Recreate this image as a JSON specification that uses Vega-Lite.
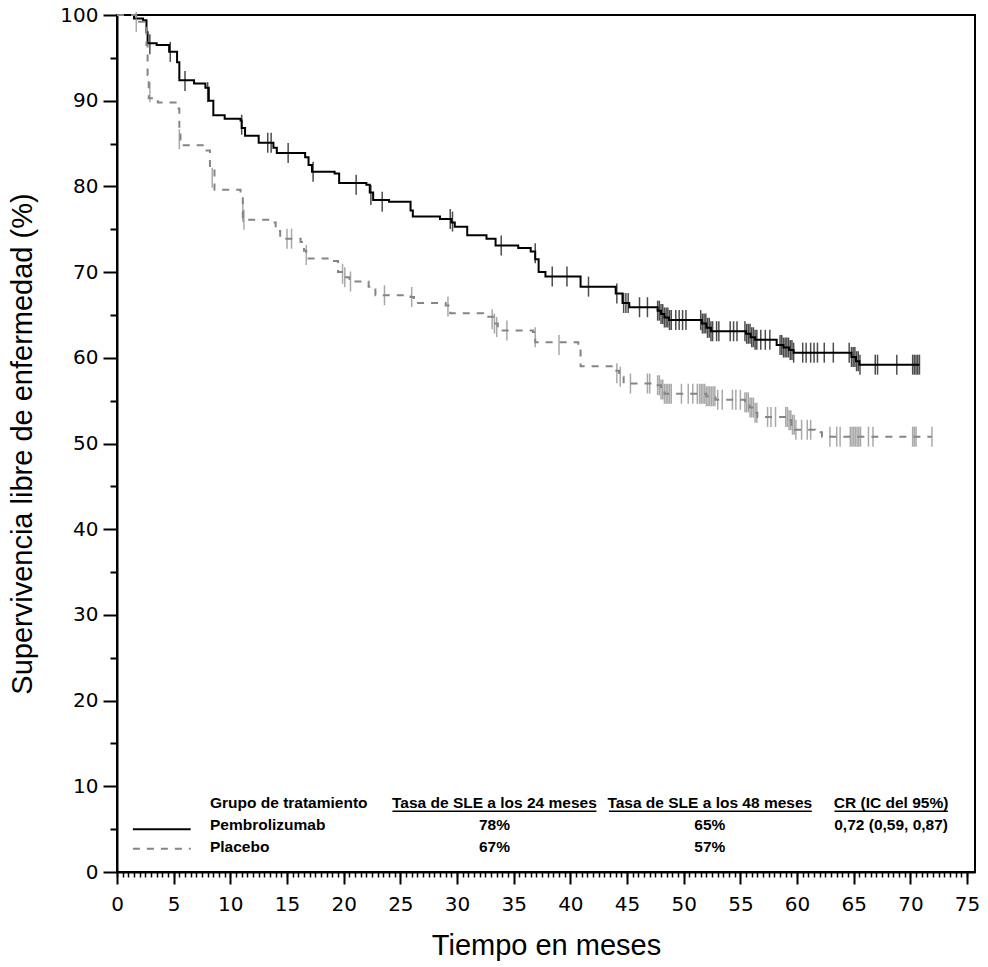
{
  "$schema": "https://vega.github.io/schema/vega-lite/v6.json",
  "width": 858,
  "height": 857,
  "autosize": {"type": "none"},
  "padding": {"left": 117, "top": 15, "right": 13, "bottom": 95},
  "background": "white",
  "config": {
    "view": {"stroke": "black", "strokeWidth": 2},
    "axis": {
      "grid": false,
      "domainColor": "black",
      "domainWidth": 2,
      "tickColor": "black",
      "tickWidth": 2,
      "labelColor": "black",
      "titleColor": "black",
      "labelFont": "DejaVu Sans",
      "labelFontSize": 20,
      "titleFont": "Liberation Sans",
      "titleFontSize": 29,
      "titleFontWeight": "normal"
    }
  },
  "datasets": {
    "km": [
      {"g": "Pembrolizumab", "t": 0, "s": 100}, {"g": "Pembrolizumab", "t": 1.5, "s": 99.6}, {"g": "Pembrolizumab", "t": 2.3, "s": 99.4},
      {"g": "Pembrolizumab", "t": 2.6, "s": 98}, {"g": "Pembrolizumab", "t": 2.7, "s": 96.7}, {"g": "Pembrolizumab", "t": 3.5, "s": 96.5},
      {"g": "Pembrolizumab", "t": 4.6, "s": 95.7}, {"g": "Pembrolizumab", "t": 5.3, "s": 94.5}, {"g": "Pembrolizumab", "t": 5.5, "s": 92.4},
      {"g": "Pembrolizumab", "t": 6.8, "s": 92.0}, {"g": "Pembrolizumab", "t": 7.8, "s": 91.5}, {"g": "Pembrolizumab", "t": 8.1, "s": 90.0},
      {"g": "Pembrolizumab", "t": 8.5, "s": 88.3}, {"g": "Pembrolizumab", "t": 9.5, "s": 87.9}, {"g": "Pembrolizumab", "t": 10.9, "s": 87.7},
      {"g": "Pembrolizumab", "t": 11.0, "s": 86.8}, {"g": "Pembrolizumab", "t": 11.3, "s": 85.9}, {"g": "Pembrolizumab", "t": 12.5, "s": 85.1},
      {"g": "Pembrolizumab", "t": 13.8, "s": 84.5}, {"g": "Pembrolizumab", "t": 14.1, "s": 83.9}, {"g": "Pembrolizumab", "t": 16.6, "s": 83.4},
      {"g": "Pembrolizumab", "t": 16.9, "s": 82.5}, {"g": "Pembrolizumab", "t": 17.2, "s": 81.7}, {"g": "Pembrolizumab", "t": 19.2, "s": 81.5},
      {"g": "Pembrolizumab", "t": 19.6, "s": 80.4}, {"g": "Pembrolizumab", "t": 22.0, "s": 80.2}, {"g": "Pembrolizumab", "t": 22.3, "s": 79.3},
      {"g": "Pembrolizumab", "t": 22.6, "s": 78.4}, {"g": "Pembrolizumab", "t": 24.0, "s": 78.2}, {"g": "Pembrolizumab", "t": 25.9, "s": 77.2},
      {"g": "Pembrolizumab", "t": 26.1, "s": 76.5}, {"g": "Pembrolizumab", "t": 28.5, "s": 76.2}, {"g": "Pembrolizumab", "t": 29.5, "s": 75.8},
      {"g": "Pembrolizumab", "t": 29.8, "s": 75.3}, {"g": "Pembrolizumab", "t": 30.9, "s": 74.3}, {"g": "Pembrolizumab", "t": 32.6, "s": 73.9},
      {"g": "Pembrolizumab", "t": 33.4, "s": 73.1}, {"g": "Pembrolizumab", "t": 35.4, "s": 72.8}, {"g": "Pembrolizumab", "t": 36.5, "s": 72.4},
      {"g": "Pembrolizumab", "t": 36.9, "s": 71.5}, {"g": "Pembrolizumab", "t": 37.2, "s": 70.0}, {"g": "Pembrolizumab", "t": 37.8, "s": 69.5},
      {"g": "Pembrolizumab", "t": 40.9, "s": 68.3}, {"g": "Pembrolizumab", "t": 44.0, "s": 67.5}, {"g": "Pembrolizumab", "t": 44.6, "s": 66.4},
      {"g": "Pembrolizumab", "t": 45.2, "s": 65.9}, {"g": "Pembrolizumab", "t": 47.7, "s": 65.5}, {"g": "Pembrolizumab", "t": 48.0, "s": 65.1},
      {"g": "Pembrolizumab", "t": 48.3, "s": 64.7}, {"g": "Pembrolizumab", "t": 48.7, "s": 64.4}, {"g": "Pembrolizumab", "t": 51.6, "s": 64.0},
      {"g": "Pembrolizumab", "t": 52.0, "s": 63.5}, {"g": "Pembrolizumab", "t": 52.4, "s": 63.1}, {"g": "Pembrolizumab", "t": 55.5, "s": 62.8},
      {"g": "Pembrolizumab", "t": 55.9, "s": 62.4}, {"g": "Pembrolizumab", "t": 56.3, "s": 62.1}, {"g": "Pembrolizumab", "t": 58.2, "s": 61.5},
      {"g": "Pembrolizumab", "t": 58.8, "s": 61.2}, {"g": "Pembrolizumab", "t": 59.3, "s": 60.9}, {"g": "Pembrolizumab", "t": 59.7, "s": 60.6},
      {"g": "Pembrolizumab", "t": 64.8, "s": 60.1}, {"g": "Pembrolizumab", "t": 65.2, "s": 59.6}, {"g": "Pembrolizumab", "t": 65.5, "s": 59.2},
      {"g": "Pembrolizumab", "t": 70.8, "s": 59.2},
      {"g": "Placebo", "t": 0, "s": 100}, {"g": "Placebo", "t": 1.7, "s": 99.2}, {"g": "Placebo", "t": 2.5, "s": 98.5},
      {"g": "Placebo", "t": 2.6, "s": 96.5}, {"g": "Placebo", "t": 2.7, "s": 93}, {"g": "Placebo", "t": 2.8, "s": 90.3},
      {"g": "Placebo", "t": 3.6, "s": 89.8}, {"g": "Placebo", "t": 5.3, "s": 89.1}, {"g": "Placebo", "t": 5.5, "s": 86.5},
      {"g": "Placebo", "t": 5.6, "s": 84.8}, {"g": "Placebo", "t": 7.9, "s": 84.2}, {"g": "Placebo", "t": 8.2, "s": 82},
      {"g": "Placebo", "t": 8.6, "s": 79.6}, {"g": "Placebo", "t": 10.9, "s": 79.4}, {"g": "Placebo", "t": 11.1, "s": 76.1},
      {"g": "Placebo", "t": 13.7, "s": 75.8}, {"g": "Placebo", "t": 14.0, "s": 74.8}, {"g": "Placebo", "t": 14.4, "s": 73.9},
      {"g": "Placebo", "t": 16.2, "s": 73.5}, {"g": "Placebo", "t": 16.5, "s": 72.5}, {"g": "Placebo", "t": 16.7, "s": 71.6},
      {"g": "Placebo", "t": 18.8, "s": 71.3}, {"g": "Placebo", "t": 19.5, "s": 70.0}, {"g": "Placebo", "t": 20.0, "s": 69.4},
      {"g": "Placebo", "t": 20.5, "s": 68.9}, {"g": "Placebo", "t": 22.2, "s": 68.3}, {"g": "Placebo", "t": 22.8, "s": 67.3},
      {"g": "Placebo", "t": 25.9, "s": 67.1}, {"g": "Placebo", "t": 26.2, "s": 66.4}, {"g": "Placebo", "t": 29.0, "s": 66.1},
      {"g": "Placebo", "t": 29.4, "s": 65.2}, {"g": "Placebo", "t": 32.3, "s": 64.8}, {"g": "Placebo", "t": 33.2, "s": 64.0},
      {"g": "Placebo", "t": 33.6, "s": 63.2}, {"g": "Placebo", "t": 36.7, "s": 63.0}, {"g": "Placebo", "t": 36.9, "s": 61.8},
      {"g": "Placebo", "t": 40.7, "s": 61.5}, {"g": "Placebo", "t": 40.9, "s": 59.0}, {"g": "Placebo", "t": 43.8, "s": 58.5},
      {"g": "Placebo", "t": 44.3, "s": 57.8}, {"g": "Placebo", "t": 44.7, "s": 57.0}, {"g": "Placebo", "t": 47.7, "s": 56.8},
      {"g": "Placebo", "t": 48.0, "s": 56.3}, {"g": "Placebo", "t": 48.3, "s": 55.8}, {"g": "Placebo", "t": 52.0, "s": 55.5},
      {"g": "Placebo", "t": 52.8, "s": 55.1}, {"g": "Placebo", "t": 55.4, "s": 54.8}, {"g": "Placebo", "t": 55.8, "s": 54.2},
      {"g": "Placebo", "t": 56.2, "s": 53.6}, {"g": "Placebo", "t": 56.5, "s": 53.1}, {"g": "Placebo", "t": 59.2, "s": 52.7},
      {"g": "Placebo", "t": 59.5, "s": 52.2}, {"g": "Placebo", "t": 59.8, "s": 51.6}, {"g": "Placebo", "t": 61.6, "s": 51.3},
      {"g": "Placebo", "t": 62.2, "s": 50.8}, {"g": "Placebo", "t": 71.9, "s": 50.8}
    ],
    "cens": [
      {"g": "Pembrolizumab", "t": 2.9, "s": 96.6}, {"g": "Pembrolizumab", "t": 4.7, "s": 95.7}, {"g": "Pembrolizumab", "t": 6.0, "s": 92.3},
      {"g": "Pembrolizumab", "t": 8.0, "s": 91.0}, {"g": "Pembrolizumab", "t": 11.0, "s": 87.2}, {"g": "Pembrolizumab", "t": 13.3, "s": 85.1},
      {"g": "Pembrolizumab", "t": 13.6, "s": 85.1}, {"g": "Pembrolizumab", "t": 15.1, "s": 83.9}, {"g": "Pembrolizumab", "t": 17.3, "s": 81.7},
      {"g": "Pembrolizumab", "t": 21.1, "s": 80.2}, {"g": "Pembrolizumab", "t": 22.4, "s": 79.0}, {"g": "Pembrolizumab", "t": 23.4, "s": 78.2},
      {"g": "Pembrolizumab", "t": 29.4, "s": 76.2}, {"g": "Pembrolizumab", "t": 29.6, "s": 75.9}, {"g": "Pembrolizumab", "t": 33.9, "s": 73.1},
      {"g": "Pembrolizumab", "t": 36.9, "s": 72.2}, {"g": "Pembrolizumab", "t": 38.4, "s": 69.5}, {"g": "Pembrolizumab", "t": 39.7, "s": 69.5},
      {"g": "Pembrolizumab", "t": 41.6, "s": 68.3}, {"g": "Pembrolizumab", "t": 44.1, "s": 67.5}, {"g": "Pembrolizumab", "t": 44.7, "s": 66.4},
      {"g": "Pembrolizumab", "t": 44.9, "s": 66.4}, {"g": "Pembrolizumab", "t": 45.1, "s": 66.4}, {"g": "Pembrolizumab", "t": 46.1, "s": 65.9},
      {"g": "Pembrolizumab", "t": 46.8, "s": 65.9}, {"g": "Pembrolizumab", "t": 47.7, "s": 65.5}, {"g": "Pembrolizumab", "t": 47.85, "s": 65.5},
      {"g": "Pembrolizumab", "t": 48.0, "s": 65.1}, {"g": "Pembrolizumab", "t": 48.15, "s": 65.1}, {"g": "Pembrolizumab", "t": 48.3, "s": 64.7},
      {"g": "Pembrolizumab", "t": 48.45, "s": 64.7}, {"g": "Pembrolizumab", "t": 48.6, "s": 64.7}, {"g": "Pembrolizumab", "t": 48.75, "s": 64.4},
      {"g": "Pembrolizumab", "t": 48.9, "s": 64.4}, {"g": "Pembrolizumab", "t": 49.3, "s": 64.4}, {"g": "Pembrolizumab", "t": 49.6, "s": 64.4},
      {"g": "Pembrolizumab", "t": 49.9, "s": 64.4}, {"g": "Pembrolizumab", "t": 50.2, "s": 64.4}, {"g": "Pembrolizumab", "t": 51.5, "s": 64.4},
      {"g": "Pembrolizumab", "t": 51.65, "s": 64.0}, {"g": "Pembrolizumab", "t": 51.8, "s": 64.0}, {"g": "Pembrolizumab", "t": 51.95, "s": 64.0},
      {"g": "Pembrolizumab", "t": 52.1, "s": 63.5}, {"g": "Pembrolizumab", "t": 52.25, "s": 63.5}, {"g": "Pembrolizumab", "t": 52.4, "s": 63.1},
      {"g": "Pembrolizumab", "t": 52.55, "s": 63.1}, {"g": "Pembrolizumab", "t": 52.9, "s": 63.1}, {"g": "Pembrolizumab", "t": 53.1, "s": 63.1},
      {"g": "Pembrolizumab", "t": 54.1, "s": 63.1}, {"g": "Pembrolizumab", "t": 54.4, "s": 63.1}, {"g": "Pembrolizumab", "t": 54.7, "s": 63.1},
      {"g": "Pembrolizumab", "t": 55.4, "s": 63.1}, {"g": "Pembrolizumab", "t": 55.55, "s": 62.8}, {"g": "Pembrolizumab", "t": 55.7, "s": 62.8},
      {"g": "Pembrolizumab", "t": 55.85, "s": 62.8}, {"g": "Pembrolizumab", "t": 56.0, "s": 62.4}, {"g": "Pembrolizumab", "t": 56.15, "s": 62.4},
      {"g": "Pembrolizumab", "t": 56.3, "s": 62.1}, {"g": "Pembrolizumab", "t": 56.45, "s": 62.1}, {"g": "Pembrolizumab", "t": 56.8, "s": 62.1},
      {"g": "Pembrolizumab", "t": 57.2, "s": 62.1}, {"g": "Pembrolizumab", "t": 57.6, "s": 62.1}, {"g": "Pembrolizumab", "t": 58.5, "s": 61.5},
      {"g": "Pembrolizumab", "t": 58.65, "s": 61.5}, {"g": "Pembrolizumab", "t": 58.8, "s": 61.2}, {"g": "Pembrolizumab", "t": 58.95, "s": 61.2},
      {"g": "Pembrolizumab", "t": 59.1, "s": 61.2}, {"g": "Pembrolizumab", "t": 59.25, "s": 61.2}, {"g": "Pembrolizumab", "t": 59.4, "s": 60.9},
      {"g": "Pembrolizumab", "t": 59.55, "s": 60.9}, {"g": "Pembrolizumab", "t": 59.7, "s": 60.6}, {"g": "Pembrolizumab", "t": 60.5, "s": 60.6},
      {"g": "Pembrolizumab", "t": 60.8, "s": 60.6}, {"g": "Pembrolizumab", "t": 61.2, "s": 60.6}, {"g": "Pembrolizumab", "t": 61.5, "s": 60.6},
      {"g": "Pembrolizumab", "t": 61.8, "s": 60.6}, {"g": "Pembrolizumab", "t": 62.4, "s": 60.6}, {"g": "Pembrolizumab", "t": 63.2, "s": 60.6},
      {"g": "Pembrolizumab", "t": 64.6, "s": 60.6}, {"g": "Pembrolizumab", "t": 64.8, "s": 60.1}, {"g": "Pembrolizumab", "t": 64.95, "s": 60.1},
      {"g": "Pembrolizumab", "t": 65.1, "s": 60.1}, {"g": "Pembrolizumab", "t": 65.25, "s": 59.6}, {"g": "Pembrolizumab", "t": 65.4, "s": 59.6},
      {"g": "Pembrolizumab", "t": 65.55, "s": 59.2}, {"g": "Pembrolizumab", "t": 66.9, "s": 59.2}, {"g": "Pembrolizumab", "t": 67.1, "s": 59.2},
      {"g": "Pembrolizumab", "t": 68.8, "s": 59.2}, {"g": "Pembrolizumab", "t": 70.2, "s": 59.2}, {"g": "Pembrolizumab", "t": 70.35, "s": 59.2},
      {"g": "Pembrolizumab", "t": 70.5, "s": 59.2}, {"g": "Pembrolizumab", "t": 70.65, "s": 59.2}, {"g": "Pembrolizumab", "t": 70.8, "s": 59.2},
      {"g": "Placebo", "t": 1.7, "s": 99.2}, {"g": "Placebo", "t": 2.9, "s": 91.0}, {"g": "Placebo", "t": 5.5, "s": 85.5},
      {"g": "Placebo", "t": 8.4, "s": 81.0}, {"g": "Placebo", "t": 11.1, "s": 77.0}, {"g": "Placebo", "t": 11.2, "s": 76.1},
      {"g": "Placebo", "t": 15.0, "s": 73.9}, {"g": "Placebo", "t": 15.4, "s": 73.9}, {"g": "Placebo", "t": 16.7, "s": 72.0},
      {"g": "Placebo", "t": 19.9, "s": 69.8}, {"g": "Placebo", "t": 20.1, "s": 69.4}, {"g": "Placebo", "t": 20.6, "s": 68.9},
      {"g": "Placebo", "t": 23.6, "s": 67.3}, {"g": "Placebo", "t": 26.0, "s": 67.1}, {"g": "Placebo", "t": 29.2, "s": 66.0},
      {"g": "Placebo", "t": 33.1, "s": 64.5}, {"g": "Placebo", "t": 33.3, "s": 64.0}, {"g": "Placebo", "t": 33.5, "s": 63.6},
      {"g": "Placebo", "t": 34.4, "s": 63.2}, {"g": "Placebo", "t": 36.9, "s": 62.4}, {"g": "Placebo", "t": 39.0, "s": 61.5},
      {"g": "Placebo", "t": 44.1, "s": 58.2}, {"g": "Placebo", "t": 44.4, "s": 57.8}, {"g": "Placebo", "t": 45.3, "s": 57.0},
      {"g": "Placebo", "t": 46.8, "s": 57.0}, {"g": "Placebo", "t": 47.0, "s": 57.0}, {"g": "Placebo", "t": 47.7, "s": 56.8},
      {"g": "Placebo", "t": 47.85, "s": 56.8}, {"g": "Placebo", "t": 48.0, "s": 56.3}, {"g": "Placebo", "t": 48.15, "s": 56.3},
      {"g": "Placebo", "t": 48.3, "s": 55.8}, {"g": "Placebo", "t": 48.45, "s": 55.8}, {"g": "Placebo", "t": 48.6, "s": 55.8},
      {"g": "Placebo", "t": 48.75, "s": 55.8}, {"g": "Placebo", "t": 48.9, "s": 55.8}, {"g": "Placebo", "t": 49.8, "s": 55.8},
      {"g": "Placebo", "t": 50.4, "s": 55.8}, {"g": "Placebo", "t": 50.8, "s": 55.8}, {"g": "Placebo", "t": 51.2, "s": 55.8},
      {"g": "Placebo", "t": 51.4, "s": 55.8}, {"g": "Placebo", "t": 51.55, "s": 55.8}, {"g": "Placebo", "t": 51.7, "s": 55.8},
      {"g": "Placebo", "t": 51.85, "s": 55.8}, {"g": "Placebo", "t": 52.0, "s": 55.5}, {"g": "Placebo", "t": 52.15, "s": 55.5},
      {"g": "Placebo", "t": 52.3, "s": 55.5}, {"g": "Placebo", "t": 52.45, "s": 55.5}, {"g": "Placebo", "t": 52.6, "s": 55.5},
      {"g": "Placebo", "t": 52.75, "s": 55.5}, {"g": "Placebo", "t": 53.0, "s": 55.1}, {"g": "Placebo", "t": 53.4, "s": 55.1},
      {"g": "Placebo", "t": 54.3, "s": 55.1}, {"g": "Placebo", "t": 54.6, "s": 55.1}, {"g": "Placebo", "t": 55.0, "s": 55.1},
      {"g": "Placebo", "t": 55.4, "s": 54.8}, {"g": "Placebo", "t": 55.55, "s": 54.8}, {"g": "Placebo", "t": 55.7, "s": 54.8},
      {"g": "Placebo", "t": 55.85, "s": 54.2}, {"g": "Placebo", "t": 56.0, "s": 54.2}, {"g": "Placebo", "t": 56.15, "s": 54.2},
      {"g": "Placebo", "t": 56.3, "s": 53.6}, {"g": "Placebo", "t": 56.45, "s": 53.6}, {"g": "Placebo", "t": 57.4, "s": 53.1},
      {"g": "Placebo", "t": 57.7, "s": 53.1}, {"g": "Placebo", "t": 58.1, "s": 53.1}, {"g": "Placebo", "t": 59.0, "s": 53.1},
      {"g": "Placebo", "t": 59.15, "s": 53.1}, {"g": "Placebo", "t": 59.3, "s": 52.7}, {"g": "Placebo", "t": 59.45, "s": 52.7},
      {"g": "Placebo", "t": 59.6, "s": 52.2}, {"g": "Placebo", "t": 59.75, "s": 52.2}, {"g": "Placebo", "t": 59.9, "s": 51.6},
      {"g": "Placebo", "t": 60.4, "s": 51.6}, {"g": "Placebo", "t": 60.9, "s": 51.6}, {"g": "Placebo", "t": 61.2, "s": 51.6},
      {"g": "Placebo", "t": 62.9, "s": 50.8}, {"g": "Placebo", "t": 63.5, "s": 50.8}, {"g": "Placebo", "t": 63.8, "s": 50.8},
      {"g": "Placebo", "t": 64.7, "s": 50.8}, {"g": "Placebo", "t": 64.85, "s": 50.8}, {"g": "Placebo", "t": 65.0, "s": 50.8},
      {"g": "Placebo", "t": 65.15, "s": 50.8}, {"g": "Placebo", "t": 65.3, "s": 50.8}, {"g": "Placebo", "t": 65.45, "s": 50.8},
      {"g": "Placebo", "t": 65.6, "s": 50.8}, {"g": "Placebo", "t": 66.3, "s": 50.8}, {"g": "Placebo", "t": 66.7, "s": 50.8},
      {"g": "Placebo", "t": 70.2, "s": 50.8}, {"g": "Placebo", "t": 70.35, "s": 50.8}, {"g": "Placebo", "t": 70.5, "s": 50.8},
      {"g": "Placebo", "t": 71.9, "s": 50.8}
    ],
    "legendLines": [
      {"g": "Pembrolizumab", "t1": 1.4, "t2": 6.5, "s": 5.0},
      {"g": "Placebo", "t1": 1.4, "t2": 6.5, "s": 2.7}
    ],
    "underlines": [
      {"t1": 24.3, "t2": 42.3, "s": 7.1},
      {"t1": 43.4, "t2": 61.3, "s": 7.1},
      {"t1": 63.3, "t2": 73.3, "s": 7.1}
    ],
    "leftText": [
      {"label": "Grupo de tratamiento", "t": 8.2, "s": 8.05},
      {"label": "Pembrolizumab", "t": 8.2, "s": 5.48},
      {"label": "Placebo", "t": 8.2, "s": 2.92}
    ],
    "centerText": [
      {"label": "Tasa de SLE a los 24 meses", "t": 33.3, "s": 8.05},
      {"label": "Tasa de SLE a los 48 meses", "t": 52.3, "s": 8.05},
      {"label": "CR (IC del 95%)", "t": 68.3, "s": 8.05},
      {"label": "78%", "t": 33.3, "s": 5.48},
      {"label": "65%", "t": 52.3, "s": 5.48},
      {"label": "0,72 (0,59, 0,87)", "t": 68.3, "s": 5.48},
      {"label": "67%", "t": 33.3, "s": 2.92},
      {"label": "57%", "t": 52.3, "s": 2.92}
    ]
  },
  "layer": [
    {
      "data": {"name": "km"},
      "mark": {"type": "line", "interpolate": "step-after", "strokeWidth": 2},
      "encoding": {
        "x": {"field": "t", "type": "quantitative", "scale": {"domain": [0, 75.7], "nice": false, "zero": false},
              "axis": {"orient": "bottom", "values": [0,5,10,15,20,25,30,35,40,45,50,55,60,65,70,75], "tickSize": 12, "labelPadding": 10, "title": "Tiempo en meses", "titlePadding": 17, "labelFlush": false}},
        "y": {"field": "s", "type": "quantitative", "scale": {"domain": [0, 100], "nice": false, "zero": false},
              "axis": {"orient": "left", "values": [0,10,20,30,40,50,60,70,80,90,100], "tickSize": 14, "labelPadding": 5, "title": "Supervivencia libre de enfermedad (%)", "titlePadding": 22, "labelFlush": false}},
        "color": {"field": "g", "type": "nominal", "scale": {"domain": ["Pembrolizumab", "Placebo"], "range": ["#000000", "#858585"]}, "legend": null},
        "strokeDash": {"field": "g", "type": "nominal", "scale": {"domain": ["Pembrolizumab", "Placebo"], "range": [[1, 0], [7, 7]]}, "legend": null}
      }
    },
    {
      "data": {"name": "cens"},
      "mark": {"type": "tick", "orient": "vertical", "size": 20, "thickness": 1.5},
      "encoding": {
        "x": {"field": "t", "type": "quantitative", "scale": {"domain": [0, 75.7], "nice": false, "zero": false},
              "axis": {"orient": "bottom", "values": [0,0.5,1,1.5,2,2.5,3,3.5,4,4.5,5,5.5,6,6.5,7,7.5,8,8.5,9,9.5,10,10.5,11,11.5,12,12.5,13,13.5,14,14.5,15,15.5,16,16.5,17,17.5,18,18.5,19,19.5,20,20.5,21,21.5,22,22.5,23,23.5,24,24.5,25,25.5,26,26.5,27,27.5,28,28.5,29,29.5,30,30.5,31,31.5,32,32.5,33,33.5,34,34.5,35,35.5,36,36.5,37,37.5,38,38.5,39,39.5,40,40.5,41,41.5,42,42.5,43,43.5,44,44.5,45,45.5,46,46.5,47,47.5,48,48.5,49,49.5,50,50.5,51,51.5,52,52.5,53,53.5,54,54.5,55,55.5,56,56.5,57,57.5,58,58.5,59,59.5,60,60.5,61,61.5,62,62.5,63,63.5,64,64.5,65,65.5,66,66.5,67,67.5,68,68.5,69,69.5,70,70.5,71,71.5,72,72.5,73,73.5,74,74.5,75], "tickSize": 5, "tickWidth": 1.5, "labels": false, "domain": false, "title": null}},
        "y": {"field": "s", "type": "quantitative", "scale": {"domain": [0, 100], "nice": false, "zero": false},
              "axis": {"orient": "left", "values": [5,15,25,35,45,55,65,75,85,95], "tickSize": 7, "labels": false, "domain": false, "title": null}},
        "color": {"field": "g", "type": "nominal", "scale": {"domain": ["Pembrolizumab", "Placebo"], "range": ["#000000", "#858585"]}, "legend": null}
      }
    },
    {
      "data": {"name": "legendLines"},
      "mark": {"type": "rule", "strokeWidth": 2},
      "encoding": {
        "x": {"field": "t1", "type": "quantitative", "axis": null},
        "x2": {"field": "t2"},
        "y": {"field": "s", "type": "quantitative", "axis": null},
        "color": {"field": "g", "type": "nominal", "scale": {"domain": ["Pembrolizumab", "Placebo"], "range": ["#000000", "#858585"]}, "legend": null},
        "strokeDash": {"field": "g", "type": "nominal", "scale": {"domain": ["Pembrolizumab", "Placebo"], "range": [[1, 0], [7, 7]]}, "legend": null}
      }
    },
    {
      "data": {"name": "underlines"},
      "mark": {"type": "rule", "strokeWidth": 1.5, "color": "black"},
      "encoding": {
        "x": {"field": "t1", "type": "quantitative", "axis": null},
        "x2": {"field": "t2"},
        "y": {"field": "s", "type": "quantitative", "axis": null}
      }
    },
    {
      "data": {"name": "leftText"},
      "mark": {"type": "text", "align": "left", "baseline": "middle", "font": "Liberation Sans", "fontWeight": "bold", "fontSize": 15.5, "color": "black"},
      "encoding": {
        "x": {"field": "t", "type": "quantitative", "axis": null},
        "y": {"field": "s", "type": "quantitative", "axis": null},
        "text": {"field": "label"}
      }
    },
    {
      "data": {"name": "centerText"},
      "mark": {"type": "text", "align": "center", "baseline": "middle", "font": "Liberation Sans", "fontWeight": "bold", "fontSize": 15.5, "color": "black"},
      "encoding": {
        "x": {"field": "t", "type": "quantitative", "axis": null},
        "y": {"field": "s", "type": "quantitative", "axis": null},
        "text": {"field": "label"}
      }
    }
  ],
  "resolve": {"axis": {"x": "independent", "y": "independent"}}
}
